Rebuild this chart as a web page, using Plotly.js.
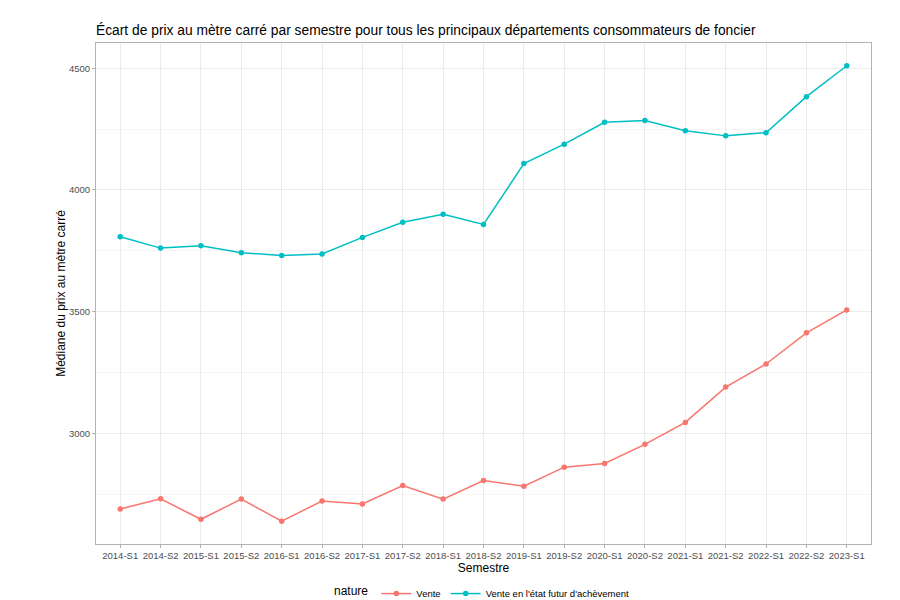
<!DOCTYPE html>
<html>
<head>
<meta charset="utf-8">
<script src="https://cdn.plot.ly/plotly-3.0.1.min.js"></script>
<style>html,body{margin:0;padding:0;background:#fff;}#chart{width:900px;height:600px;}</style>
</head>
<body>
<div id="chart"></div>
<script>
const semestres = ["2014-S1","2014-S2","2015-S1","2015-S2","2016-S1","2016-S2","2017-S1","2017-S2","2018-S1","2018-S2","2019-S1","2019-S2","2020-S1","2020-S2","2021-S1","2021-S2","2022-S1","2022-S2","2023-S1"];
const vente = [2689,2731,2647,2730,2639,2722,2710,2786,2730,2806,2783,2861,2876,2955,3045,3190,3285,3413,3507];
const venteVefa = [3808,3761,3771,3742,3731,3737,3805,3867,3900,3858,4108,4188,4278,4285,4243,4222,4235,4383,4510];
const seriesNames = ["Vente","Vente en l'état futur d'achèvement"];
const seriesColors = ["#F8766D","#00BFC4"];

const font = "Liberation Sans, Arial, sans-serif";
const traces = [vente, venteVefa].map((v, i) => ({
  x: semestres, y: v, type: "scatter", mode: "lines+markers",
  name: seriesNames[i],
  line: {color: seriesColors[i], width: 1.5},
  marker: {color: seriesColors[i], size: 5.5}
}));

const layout = {
  width: 900, height: 600,
  paper_bgcolor: "#fff", plot_bgcolor: "#fff",
  margin: {l: 96, r: 29, t: 43, b: 56, autoexpand: false},
  font: {family: font, color: "#4d4d4d"},
  title: {text: "Écart de prix au mètre carré par semestre pour tous les principaux départements consommateurs de foncier",
    x: 96/900, xanchor: "left", y: 1 - 30/600, yanchor: "middle",
    font: {family: font, size: 13.8, color: "#000"}},
  xaxis: {
    type: "category", range: [-0.6, 18.6], automargin: false,
    title: {text: "Semestre", font: {size: 12, color: "#000"}, standoff: 2},
    tickfont: {size: 9.5, color: "#4d4d4d"},
    showgrid: true, gridcolor: "#ebebeb", gridwidth: 1,
    showline: true, mirror: true, linecolor: "#b3b3b3", linewidth: 1,
    ticks: "outside", ticklen: 3, tickcolor: "#b3b3b3",
    zeroline: false, fixedrange: true
  },
  yaxis: {
    range: [2545.5, 4603.5], automargin: false,
    tickvals: [3000, 3500, 4000, 4500],
    title: {text: "Médiane du prix au mètre carré", font: {size: 12, color: "#000"}, standoff: 0},
    tickfont: {size: 9.5, color: "#4d4d4d"},
    showgrid: true, gridcolor: "#ebebeb", gridwidth: 1,
    minor: {tickvals: [2750, 3250, 3750, 4250], showgrid: true, gridcolor: "#f5f5f5", gridwidth: 1, ticks: ""},
    showline: true, mirror: true, linecolor: "#b3b3b3", linewidth: 1,
    ticks: "outside", ticklen: 3, tickcolor: "#b3b3b3",
    zeroline: false
  },
  showlegend: true,
  legend: {
    orientation: "h", x: 0.5, xanchor: "center", y: -0.07, yanchor: "top",
    itemwidth: 30,
    title: {text: "nature", font: {size: 12, color: "#000"}},
    font: {size: 9.5, color: "#000"}
  }
};

Plotly.newPlot("chart", traces, layout, {displayModeBar: false, staticPlot: true});
</script>
</body>
</html>
